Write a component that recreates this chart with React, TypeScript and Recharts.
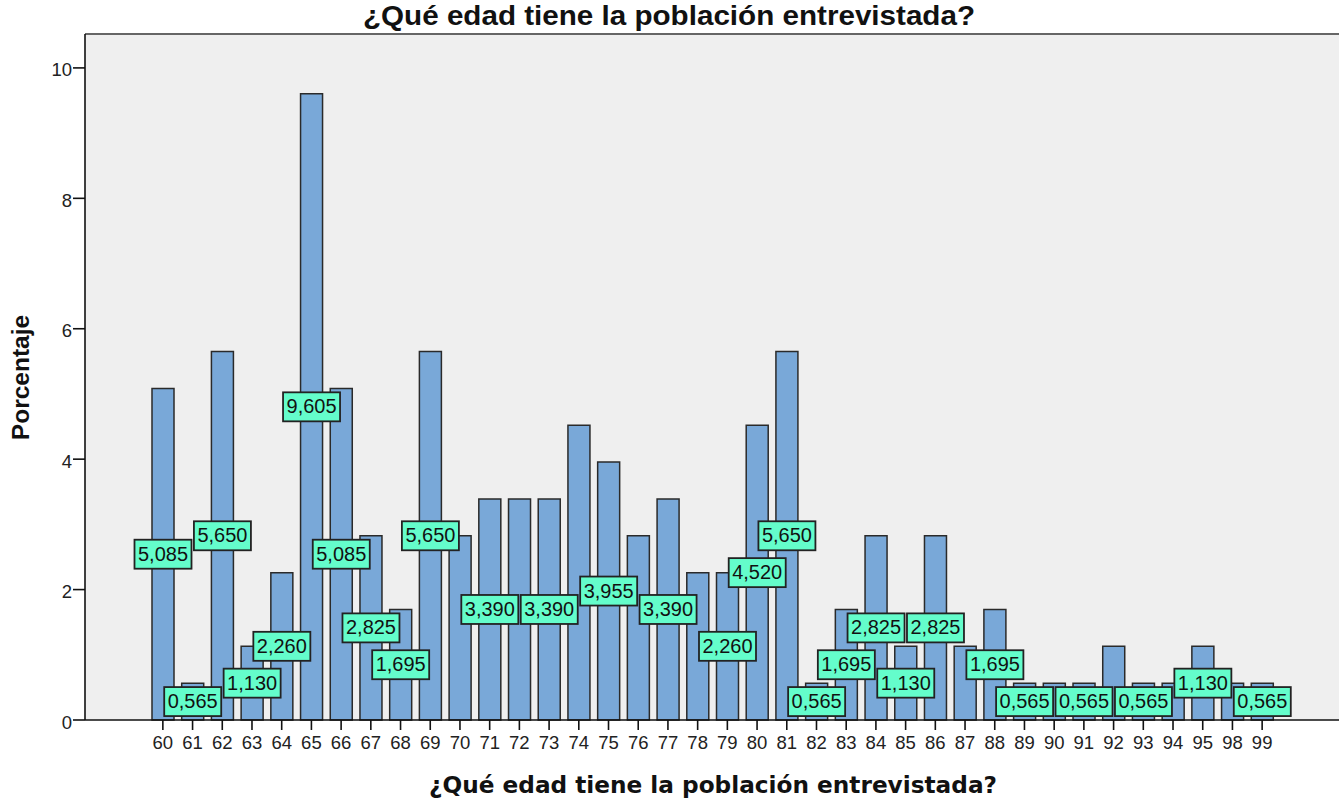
import React from 'react';
import { BarChart, Bar, XAxis, YAxis, CartesianGrid, LabelList, ReferenceLine } from 'recharts';

const ages = [
  '60', '61', '62', '63', '64', '65', '66', '67', '68', '69',
  '70', '71', '72', '73', '74', '75', '76', '77', '78', '79',
  '80', '81', '82', '83', '84', '85', '86', '87', '88', '89',
  '90', '91', '92', '93', '94', '95', '98', '99',
];

const percents = [
  5.085, 0.565, 5.65, 1.13, 2.26, 9.605, 5.085, 2.825, 1.695, 5.65,
  2.825, 3.39, 3.39, 3.39, 4.52, 3.955, 2.825, 3.39, 2.26, 2.26,
  4.52, 5.65, 0.565, 1.695, 2.825, 1.13, 2.825, 1.13, 1.695, 0.565,
  0.565, 0.565, 1.13, 0.565, 0.565, 1.13, 0.565, 0.565,
];

// which value labels are visible (others hidden as overlapping)
const labelShown = [
  true, true, true, true, true, true, true, true, true, true,
  false, true, false, true, false, true, false, true, false, true,
  true, true, true, true, true, true, true, false, true, true,
  false, true, false, true, false, true, false, true,
];

const yTicks = [0, 2, 4, 6, 8, 10];
const yMax = 10.52;

const titleText = '¿Qué edad tiene la población entrevistada?';
const yLabelText = 'Porcentaje';

const data = ages.map((age, i) => ({
  age,
  pct: percents[i],
  label: labelShown[i] ? percents[i].toFixed(3).replace('.', ',') : '',
}));

const W = 1339;
const H = 803;

const ValueBox = (props: any) => {
  const { value } = props;
  if (!value) return null;
  const vb = props.viewBox || {};
  const x = props.x ?? vb.x;
  const y = props.y ?? vb.y;
  const w = props.width ?? vb.width;
  const h = props.height ?? vb.height;
  const cx = x + w / 2;
  const cy = y + h / 2;
  const bw = 57;
  const bh = 29;
  return (
    <g>
      <rect x={cx - bw / 2} y={cy - bh / 2} width={bw} height={bh} fill="#64FDCB" stroke="#222" strokeWidth={1.8} />
      <text
        x={cx}
        y={cy + 6.5}
        textAnchor="middle"
        fontFamily="'Liberation Sans', Arial, sans-serif"
        fontSize={19.5}
        fill="#111"
        textLength={50}
        lengthAdjust="spacingAndGlyphs"
      >
        {value}
      </text>
    </g>
  );
};

export default function App() {
  return (
    <div style={{ position: 'absolute', left: 0, top: 0, width: W, height: H, background: '#fff' }}>
      <BarChart
        width={W}
        height={H}
        data={data}
        margin={{ top: 34, right: 0, bottom: 0, left: 0 }}
        barSize={22}
      >
        <CartesianGrid fill="#EFEFEF" horizontal={false} vertical={false} />
        <XAxis
          dataKey="age"
          height={83}
          padding={{ left: 63, right: 62 }}
          interval={0}
          tickSize={10}
          tickMargin={6}
          tick={{ fontFamily: "'Liberation Sans', Arial, sans-serif", fontSize: 18.5, fill: '#222' }}
          axisLine={{ stroke: '#111', strokeWidth: 1.6 }}
          tickLine={{ stroke: '#111', strokeWidth: 1.6 }}
        />
        <YAxis
          width={85}
          domain={[0, yMax]}
          ticks={yTicks}
          interval={0}
          tickSize={12}
          tickMargin={1}
          tick={{ fontFamily: "'Liberation Sans', Arial, sans-serif", fontSize: 18.5, fill: '#222', dy: 2 }}
          axisLine={{ stroke: '#111', strokeWidth: 1.6 }}
          tickLine={{ stroke: '#111', strokeWidth: 1.6 }}
        />
        <ReferenceLine y={yMax} stroke="#666" strokeWidth={2} />
        <Bar dataKey="pct" fill="#79A8D8" stroke="#2a2a2a" strokeWidth={1.5} isAnimationActive={false}>
          <LabelList dataKey="label" content={ValueBox} />
        </Bar>
      </BarChart>
      <svg
        width={W}
        height={H}
        style={{ position: 'absolute', left: 0, top: 0, pointerEvents: 'none' }}
      >
        <text
          x={669}
          y={25}
          textAnchor="middle"
          fontFamily="'Liberation Sans', Arial, sans-serif"
          fontWeight="bold"
          fontSize={28.5}
          fill="#111"
          textLength={612}
          lengthAdjust="spacingAndGlyphs"
        >
          {titleText}
        </text>
        <text
          x={713}
          y={793}
          textAnchor="middle"
          fontFamily="'DejaVu Sans', Verdana, sans-serif"
          fontWeight="bold"
          fontSize={23}
          fill="#111"
          textLength={568}
          lengthAdjust="spacingAndGlyphs"
        >
          {titleText}
        </text>
        <text
          x={28.5}
          y={377.5}
          textAnchor="middle"
          transform="rotate(-90, 28.5, 377.5)"
          fontFamily="'Liberation Sans', Arial, sans-serif"
          fontWeight="bold"
          fontSize={24.5}
          fill="#111"
        >
          {yLabelText}
        </text>
      </svg>
    </div>
  );
}
